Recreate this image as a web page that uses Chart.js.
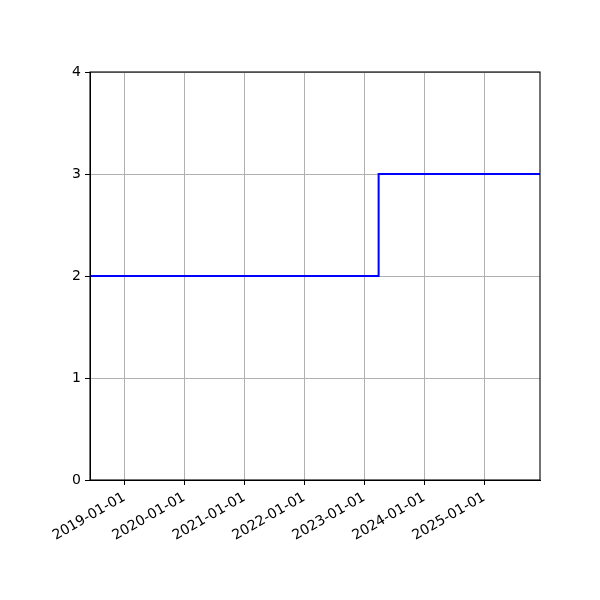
<!DOCTYPE html>
<html>
<head>
<meta charset="utf-8">
<script src="https://cdn.jsdelivr.net/npm/chart.js@4/dist/chart.umd.min.js"></script>
<style>
  html, body { margin: 0; padding: 0; background: #fff; }
  canvas { display: block; }
</style>
</head>
<body>
<canvas id="stepChart" width="600" height="600"></canvas>
<script>
// step series: value holds from each date until the next one
const dates = ['2018-06-06', '2023-03-30', '2025-12-07'];
const values = [2, 3, 3];
const yearTicks = ['2019-01-01', '2020-01-01', '2021-01-01', '2022-01-01', '2023-01-01', '2024-01-01', '2025-01-01'];

const toMs = s => Date.parse(s + 'T00:00:00Z');
const pad2 = n => (n < 10 ? '0' : '') + n;
const fmtDate = ms => {
  const d = new Date(ms);
  return d.getUTCFullYear() + '-' + pad2(d.getUTCMonth() + 1) + '-' + pad2(d.getUTCDate());
};

// black frame round the plot area, like the matplotlib spines
const frame = {
  id: 'frame',
  afterDraw(chart) {
    const { ctx, chartArea: a } = chart;
    ctx.save();
    ctx.strokeStyle = '#000';
    ctx.lineWidth = 1.1;
    ctx.strokeRect(a.left, a.top, a.right - a.left, a.bottom - a.top);
    ctx.restore();
  }
};

Chart.defaults.font.family = '"DejaVu Sans", sans-serif';
Chart.defaults.font.size = 14;
Chart.defaults.color = '#000';

new Chart(document.getElementById('stepChart').getContext('2d'), {
  type: 'line',
  data: {
    datasets: [{
      data: dates.map((d, i) => ({ x: toMs(d), y: values[i] })),
      borderColor: '#0000ff',
      borderWidth: 2,
      stepped: 'before',
      pointRadius: 0,
      fill: false
    }]
  },
  options: {
    responsive: false,
    animation: false,
    devicePixelRatio: 1,
    layout: { padding: { top: 72, right: 60, left: 0, bottom: 0 } },
    plugins: { legend: { display: false }, tooltip: { enabled: false } },
    scales: {
      x: {
        type: 'linear',
        min: toMs(dates[0]),
        max: toMs(dates[dates.length - 1]),
        afterBuildTicks: axis => { axis.ticks = yearTicks.map(t => ({ value: toMs(t) })); },
        afterFit: axis => { axis.height = 120; },
        ticks: {
          callback: v => fmtDate(v),
          minRotation: 30,
          maxRotation: 30,
          autoSkip: false,
          padding: 4
        },
        grid: { color: '#b0b0b0', lineWidth: 1, tickColor: '#000', tickLength: 5 },
        border: { color: '#000' }
      },
      y: {
        min: 0,
        max: 4,
        afterFit: axis => { axis.width = 90; },
        ticks: { stepSize: 1, padding: 4 },
        grid: { color: '#b0b0b0', lineWidth: 1, tickColor: '#000', tickLength: 5 },
        border: { color: '#000' }
      }
    }
  },
  plugins: [frame]
});
</script>
</body>
</html>
